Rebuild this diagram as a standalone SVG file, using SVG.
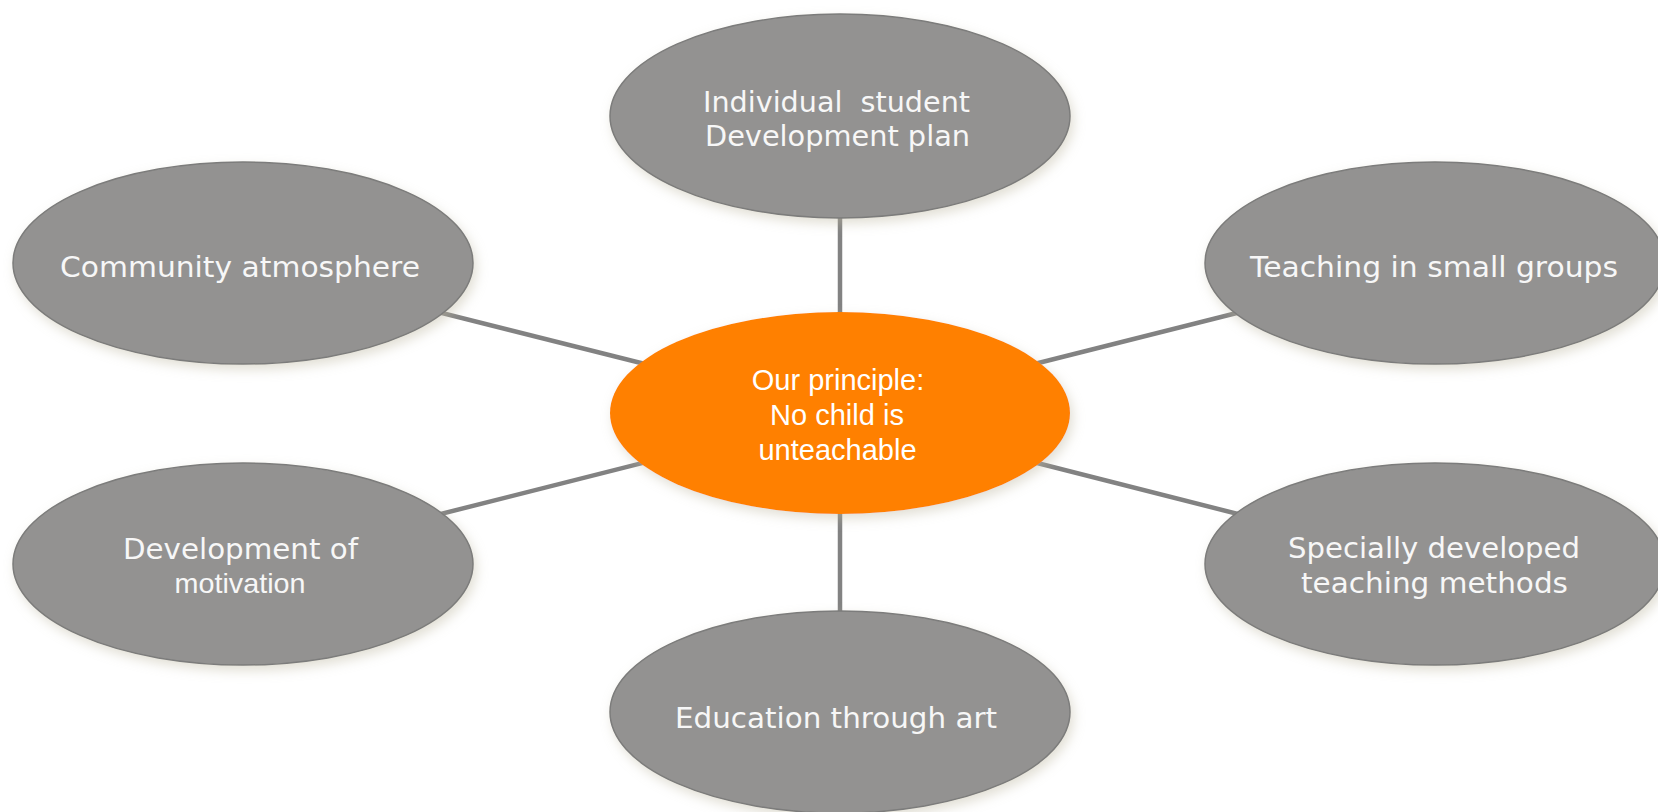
<svg xmlns="http://www.w3.org/2000/svg" width="1658" height="812" viewBox="0 0 1658 812">
<style>
.node{fill:#939291;stroke:#7c7c7b;stroke-width:1.5;filter:url(#sh)}
.core{fill:#ff8000;filter:url(#sh)}
.t{font-family:"DejaVu Sans",Verdana,sans-serif;font-size:27.5px;fill:#f7f7f7;text-anchor:middle}
.ta{font-family:"Liberation Sans",Arial,sans-serif;font-size:28px;fill:#f7f7f7;text-anchor:middle}
.tc{font-family:"Liberation Sans",Arial,sans-serif;font-size:29px;fill:#ffffff;text-anchor:middle}
.link{stroke:#828282;stroke-width:4.5;fill:none}
</style>
<defs>
<filter id="sh" x="-10%" y="-15%" width="125%" height="140%">
<feDropShadow dx="3" dy="5" stdDeviation="6" flood-color="#bdb8a0" flood-opacity="0.45"/>
</filter>
</defs>
<rect width="1658" height="812" fill="#ffffff"/>
<g id="connectors">
<line class="link" x1="840" y1="116" x2="840" y2="413"/>
<line class="link" x1="840" y1="413" x2="840" y2="712"/>
<line class="link" x1="243" y1="263" x2="840" y2="413"/>
<line class="link" x1="1435" y1="263" x2="840" y2="413"/>
<line class="link" x1="243" y1="564" x2="840" y2="413"/>
<line class="link" x1="1435" y1="564" x2="840" y2="413"/>
</g>
<g id="node-plan">
<ellipse class="node" cx="840" cy="116" rx="230" ry="102"/>
<text class="t" x="836.5" y="112" textLength="267" lengthAdjust="spacingAndGlyphs" xml:space="preserve">Individual  student</text>
<text class="t" x="837.5" y="146" textLength="265" lengthAdjust="spacingAndGlyphs">Development plan</text>
</g>
<g id="node-community">
<ellipse class="node" cx="243" cy="263" rx="230" ry="101"/>
<text class="t" x="240" y="277" textLength="360" lengthAdjust="spacingAndGlyphs">Community atmosphere</text>
</g>
<g id="node-groups">
<ellipse class="node" cx="1435" cy="263" rx="230" ry="101"/>
<text class="t" x="1434" y="277" textLength="368" lengthAdjust="spacingAndGlyphs">Teaching in small groups</text>
</g>
<g id="node-motivation">
<ellipse class="node" cx="243" cy="564" rx="230" ry="101"/>
<text class="t" x="240.5" y="559" textLength="235" lengthAdjust="spacingAndGlyphs">Development of</text>
<text class="ta" x="240" y="593" textLength="131" lengthAdjust="spacingAndGlyphs">motivation</text>
</g>
<g id="node-methods">
<ellipse class="node" cx="1435" cy="564" rx="230" ry="101"/>
<text class="t" x="1434" y="558" textLength="292" lengthAdjust="spacingAndGlyphs">Specially developed</text>
<text class="t" x="1434.5" y="593" textLength="267" lengthAdjust="spacingAndGlyphs">teaching methods</text>
</g>
<g id="node-art">
<ellipse class="node" cx="840" cy="712" rx="230" ry="101"/>
<text class="t" x="836" y="728" textLength="322" lengthAdjust="spacingAndGlyphs">Education through art</text>
</g>
<g id="node-principle">
<ellipse class="core" cx="840" cy="413" rx="230" ry="101"/>
<text class="tc" x="838" y="390">Our principle:</text>
<text class="tc" x="837" y="425">No child is</text>
<text class="tc" x="837.5" y="460">unteachable</text>
</g>
</svg>
